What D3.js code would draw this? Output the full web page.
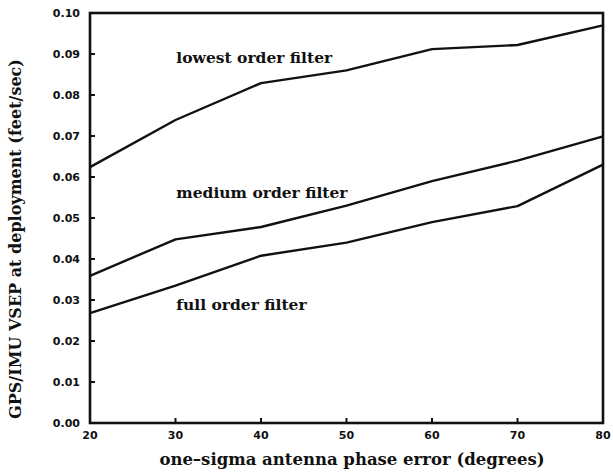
<!DOCTYPE html>
<html>
<head>
  <meta charset="utf-8">
  <title>VSEP vs antenna phase error</title>
  <script src="https://d3js.org/d3.v7.min.js"></script>
  <style>
    html, body { margin: 0; padding: 0; background: #fff; }
    svg { display: block; }
    .tick-label { font: bold 11px "DejaVu Sans", sans-serif; fill: #111; }
    .axis-title { font-family: "DejaVu Serif", serif; font-weight: bold; fill: #111; }
    .series-label { font: bold 15.5px "DejaVu Serif", serif; fill: #111; }
    .series { fill: none; stroke: #111; stroke-width: 2.4px; stroke-linejoin: round; }
  </style>
</head>
<body>
  <svg width="613" height="472"></svg>
  <script>
    // phase error (deg)
    const phaseError = [20, 30, 40, 50, 60, 70, 80];

    // VSEP (feet/sec)
    const lowestOrder = [0.0624, 0.0739, 0.0829, 0.0860, 0.0912, 0.0922, 0.0970];
    const mediumOrder = [0.0359, 0.0448, 0.0478, 0.0530, 0.0590, 0.0640, 0.0699];
    const fullOrder   = [0.0268, 0.0335, 0.0408, 0.0440, 0.0490, 0.0529, 0.0630];

    const xTicks = [20, 30, 40, 50, 60, 70, 80];
    const yTicks = [0.00, 0.01, 0.02, 0.03, 0.04, 0.05, 0.06, 0.07, 0.08, 0.09, 0.10];

    const seriesLabels = [
      { text: "lowest order filter", x: 30.1, y: 0.0878 },
      { text: "medium order filter", x: 30.1, y: 0.0549 },
      { text: "full order filter",   x: 30.1, y: 0.0276 }
    ];

    const svg = d3.select("svg");
    const m = { left: 90, right: 603, top: 13, bottom: 423 };

    const x = d3.scaleLinear().domain([20, 80]).range([m.left, m.right]);
    const y = d3.scaleLinear().domain([0, 0.10]).range([m.bottom, m.top]);

    // frame
    svg.append("rect")
      .attr("x", m.left).attr("y", m.top)
      .attr("width", m.right - m.left).attr("height", m.bottom - m.top)
      .attr("fill", "none").attr("stroke", "#111").attr("stroke-width", 2.6);

    // y ticks (inward) + labels
    svg.selectAll(".ytick").data(yTicks).enter().append("line")
      .attr("class", "ytick")
      .attr("x1", m.left).attr("x2", m.left + 5)
      .attr("y1", d => y(d)).attr("y2", d => y(d))
      .attr("stroke", "#111").attr("stroke-width", 2);

    svg.selectAll(".ylab").data(yTicks).enter().append("text")
      .attr("class", "tick-label")
      .attr("x", m.left - 10)
      .attr("y", d => y(d) + 4)
      .attr("text-anchor", "end")
      .text(d => d3.format(".2f")(d));

    // x ticks (inward) + labels
    svg.selectAll(".xtick").data(xTicks.slice(1, -1)).enter().append("line")
      .attr("class", "xtick")
      .attr("x1", d => x(d)).attr("x2", d => x(d))
      .attr("y1", m.bottom).attr("y2", m.bottom - 5)
      .attr("stroke", "#111").attr("stroke-width", 2);

    svg.selectAll(".xlab").data(xTicks).enter().append("text")
      .attr("class", "tick-label")
      .attr("x", d => x(d))
      .attr("y", m.bottom + 16)
      .attr("text-anchor", "middle")
      .text(d => d);

    // axis titles
    svg.append("text")
      .attr("class", "axis-title")
      .attr("x", 352)
      .attr("y", 465)
      .attr("text-anchor", "middle")
      .style("font-size", "16.5px")
      .text("one\u2013sigma antenna phase error (degrees)");

    svg.append("text")
      .attr("class", "axis-title")
      .attr("transform", "translate(21,239) rotate(-90)")
      .attr("text-anchor", "middle")
      .style("font-size", "16px")
      .text("GPS/IMU VSEP at deployment (feet/sec)");

    // series lines
    const line = d3.line()
      .x((d, i) => x(phaseError[i]))
      .y(d => y(d));

    [lowestOrder, mediumOrder, fullOrder].forEach(s => {
      svg.append("path").attr("class", "series").attr("d", line(s));
    });

    svg.selectAll(".series-label").data(seriesLabels).enter().append("text")
      .attr("class", "series-label")
      .attr("x", d => x(d.x))
      .attr("y", d => y(d.y))
      .text(d => d.text);
  </script>
</body>
</html>
